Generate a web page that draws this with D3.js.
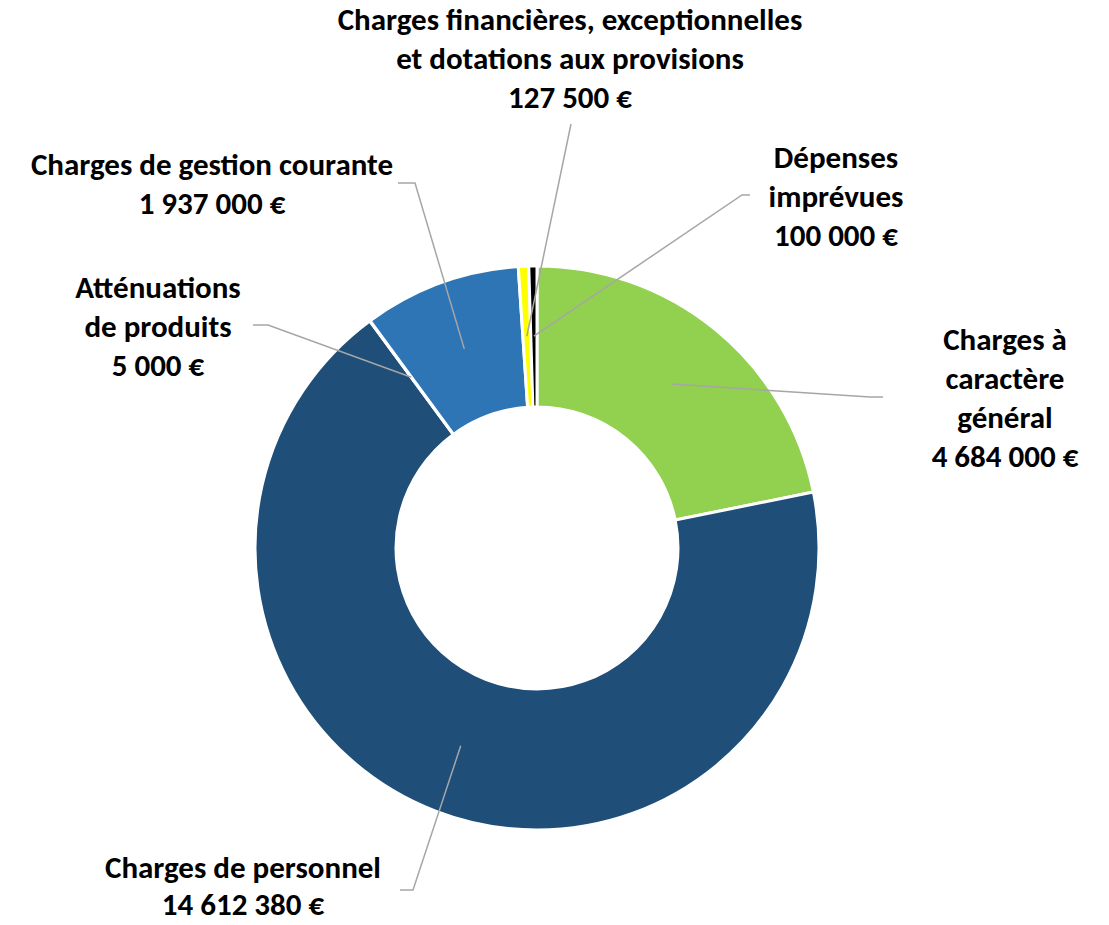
<!DOCTYPE html>
<html lang="fr">
<head>
  <meta charset="UTF-8">
  <title>Charges de fonctionnement</title>
  <script src="https://d3js.org/d3.v7.min.js"></script>
  <style type="text/css">
    body { margin: 0; background: #fff; }
    text { font-family: Carlito, Calibri, Lato, sans-serif; font-weight: bold; fill: #000; }
  </style>
</head>
<body>
<script type="text/javascript">
  // donnees
  var categories = [
    "Charges à caractère général",
    "Charges de personnel",
    "Atténuations de produits",
    "Charges de gestion courante",
    "Charges financières, exceptionnelles et dotations aux provisions",
    "Dépenses imprévues"
  ];
  var values = [4684000, 14612380, 5000, 1937000, 127500, 100000];
  var colors = ["#92D050", "#1F4E79", "#A5A5A5", "#2E75B6", "#FFFF00", "#000000"];

  // lignes de texte des etiquettes (valeur ajoutee a la fin)
  var labelLines = [
    ["Charges à", "caractère", "général"],
    ["Charges de personnel"],
    ["Atténuations", "de produits"],
    ["Charges de gestion courante"],
    ["Charges financières, exceptionnelles", "et dotations aux provisions"],
    ["Dépenses", "imprévues"]
  ];

  // placement des etiquettes : centre du texte, premiere ligne, coude et bout de la ligne de rappel
  var labelPos = [
    {x: 1005, y: 340, elbow: [870, 397], end: [883, 397]},
    {x: 243,  y: 868, lh: 37, elbow: [413, 890], end: [400, 890]},
    {x: 158,  y: 288, elbow: [268, 325], end: [253, 325]},
    {x: 212,  y: 165, elbow: [415, 183], end: [398, 183]},
    {x: 570,  y: 20,  elbow: [571, 124], end: [571, 124]},
    {x: 836,  y: 158, elbow: [742, 195], end: [750, 195]}
  ];

  var width = 1109, height = 925;
  var cx = 537, cy = 548;
  var outerR = 282, innerR = 141;
  var lineH = 39;

  var fmt = function(v) {
    return d3.format(",")(v).replace(/,/g, " ") + " €";
  };

  var svg = d3.select("body").append("svg")
    .attr("width", width)
    .attr("height", height);

  var pie = d3.pie().sort(null).value(function(d){ return d; });
  var arcs = pie(values);

  var arc = d3.arc().innerRadius(innerR).outerRadius(outerR);
  var mid = d3.arc().innerRadius(212).outerRadius(212);

  var g = svg.append("g").attr("transform", "translate(" + cx + "," + cy + ")");

  g.selectAll("path.slice")
    .data(arcs)
    .enter()
    .append("path")
    .attr("class", "slice")
    .attr("d", arc)
    .attr("fill", function(d, i){ return colors[i]; })
    .attr("stroke", "#fff")
    .attr("stroke-width", 3)
    .attr("stroke-linejoin", "round");

  // lignes de rappel
  svg.selectAll("polyline.leader")
    .data(arcs)
    .enter()
    .append("polyline")
    .attr("class", "leader")
    .attr("fill", "none")
    .attr("stroke", "#A6A6A6")
    .attr("stroke-width", 1.5)
    .attr("points", function(d, i){
      var c = mid.centroid(d);
      var p = labelPos[i];
      return [[c[0] + cx, c[1] + cy], p.elbow, p.end].map(function(q){ return q.join(","); }).join(" ");
    });

  // etiquettes
  var labels = svg.selectAll("text.lbl")
    .data(arcs)
    .enter()
    .append("text")
    .attr("class", "lbl")
    .attr("text-anchor", "middle")
    .attr("font-size", 31);

  labels.each(function(d, i){
    var t = d3.select(this);
    var p = labelPos[i];
    var lines = labelLines[i].concat([fmt(values[i])]);
    lines.forEach(function(s, k){
      t.append("tspan")
        .attr("x", p.x)
        .attr("y", p.y + k * (p.lh || lineH))
        .attr("dy", "0.33em")
        .text(s);
    });
  });
</script>
</body>
</html>
